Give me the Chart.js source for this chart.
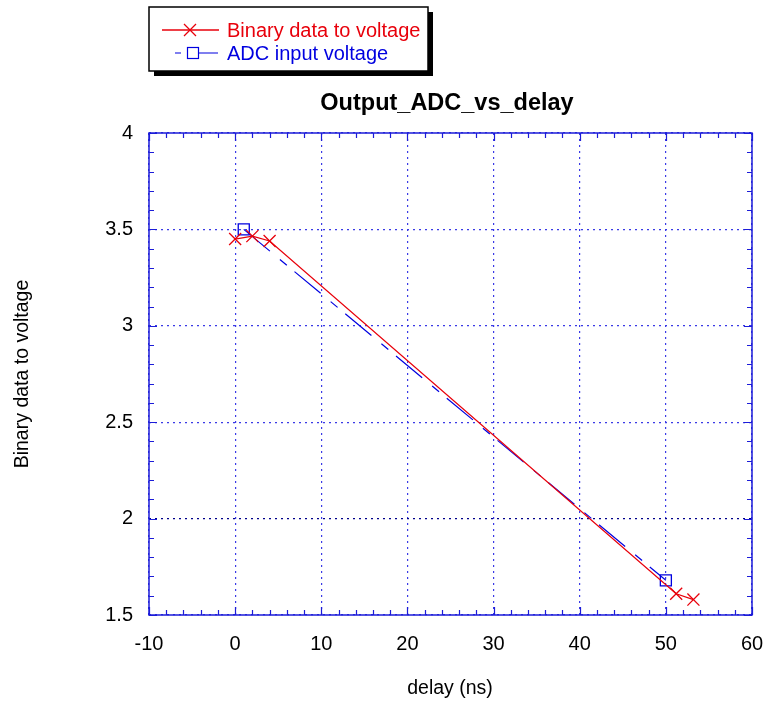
<!DOCTYPE html>
<html>
<head>
<meta charset="utf-8">
<script src="https://cdn.jsdelivr.net/npm/chart.js@4/dist/chart.umd.min.js"></script>
<style>
  html, body { margin: 0; padding: 0; background: #fff; }
  canvas { display: block; }
</style>
</head>
<body>
<canvas id="chart" width="766" height="702"></canvas>
<script>
// delay (ns) vs voltage, two series
const binaryDelay = [0, 2, 4, 51.2, 53.2];
const binaryVolt = [3.45, 3.465, 3.44, 1.61, 1.58];
const adcDelay = [1, 50];
const adcVolt = [3.5, 1.68];

const xTicks = [-10, 0, 10, 20, 30, 40, 50, 60];
const yTicks = [1.5, 2, 2.5, 3, 3.5, 4];

const chartTitle = 'Output_ADC_vs_delay';
const xTitle = 'delay (ns)';
const yTitle = 'Binary data to voltage';

const FONT = '"Liberation Sans", Arial, sans-serif';
const FRAME = '#1c1cd8';
const GRID = '#3a3ae6';

const toPoints = (xs, ys) => xs.map((x, i) => ({ x: x, y: ys[i] }));

// frame, inward ticks, titles and the boxed legend
const decorations = {
    id: 'decorations',
    afterDatasetsDraw(chart) {
        const ctx = chart.ctx;
        const area = chart.chartArea;
        const xs = chart.scales.x;
        const ys = chart.scales.y;

        ctx.save();
        ctx.strokeStyle = FRAME;
        ctx.lineWidth = 1.5;
        ctx.setLineDash([]);
        ctx.strokeRect(area.left, area.top, area.right - area.left, area.bottom - area.top);

        ctx.lineWidth = 1.2;
        ctx.beginPath();
        for (let v = -10; v <= 60; v += 2) {
            const px = Math.round(xs.getPixelForValue(v)) + 0.5;
            const len = v % 10 === 0 ? 8 : 5;
            ctx.moveTo(px, area.bottom); ctx.lineTo(px, area.bottom - len);
            ctx.moveTo(px, area.top); ctx.lineTo(px, area.top + len);
        }
        for (let i = 0; i <= 25; i++) {
            const v = 1.5 + i * 0.1;
            const py = Math.round(ys.getPixelForValue(v)) + 0.5;
            const len = i % 5 === 0 ? 8 : 5;
            ctx.moveTo(area.left, py); ctx.lineTo(area.left + len, py);
            ctx.moveTo(area.right, py); ctx.lineTo(area.right - len, py);
        }
        ctx.stroke();

        // titles
        ctx.fillStyle = '#000';
        ctx.textAlign = 'center';
        ctx.textBaseline = 'middle';
        ctx.font = 'bold 23.5px ' + FONT;
        ctx.fillText(chartTitle, 447, 104);
        ctx.font = '19.5px ' + FONT;
        ctx.fillText(xTitle, 450, 689);
        ctx.save();
        ctx.translate(23, (area.top + area.bottom) / 2);
        ctx.rotate(-Math.PI / 2);
        ctx.fillText(yTitle, 0, 0);
        ctx.restore();

        // legend box with drop shadow
        const bx = 149, by = 7, bw = 279, bh = 64;
        ctx.fillStyle = '#000';
        ctx.fillRect(bx + 5, by + 5, bw, bh);
        ctx.fillStyle = '#fff';
        ctx.fillRect(bx, by, bw, bh);
        ctx.strokeStyle = '#000';
        ctx.lineWidth = 1.5;
        ctx.strokeRect(bx, by, bw, bh);

        const rows = [30, 53];
        chart.data.datasets.forEach((ds, i) => {
            const y = rows[i];
            ctx.strokeStyle = ds.borderColor;
            ctx.lineWidth = ds.borderWidth;
            ctx.setLineDash([]);
            ctx.beginPath();
            if (i === 1) {
                ctx.moveTo(175, y); ctx.lineTo(181, y);
                ctx.moveTo(199, y); ctx.lineTo(218, y);
            } else {
                ctx.moveTo(162, y); ctx.lineTo(219, y);
            }
            ctx.stroke();
            if (i === 1) {
                const cx = 193;
                ctx.strokeRect(cx - 5.5, y - 5.5, 11, 11);
            } else {
                const cx = 190;
                ctx.beginPath();
                ctx.moveTo(cx - 6, y - 6); ctx.lineTo(cx + 6, y + 6);
                ctx.moveTo(cx - 6, y + 6); ctx.lineTo(cx + 6, y - 6);
                ctx.stroke();
            }
            ctx.fillStyle = ds.borderColor;
            ctx.textAlign = 'left';
            ctx.font = '20px ' + FONT;
            ctx.fillText(ds.label, 227, y + 1);
        });
        ctx.restore();
    }
};

new Chart(document.getElementById('chart'), {
    type: 'scatter',
    data: {
        datasets: [
            {
                label: 'Binary data to voltage',
                data: toPoints(binaryDelay, binaryVolt),
                showLine: true,
                borderColor: '#e8000b',
                backgroundColor: '#e8000b',
                borderWidth: 1.3,
                pointStyle: 'crossRot',
                pointRadius: 8.5,
                pointBorderWidth: 1.3,
                tension: 0
            },
            {
                label: 'ADC input voltage',
                data: toPoints(adcDelay, adcVolt),
                showLine: true,
                borderColor: '#0000e0',
                backgroundColor: 'rgba(0,0,0,0)',
                borderWidth: 1.2,
                borderDash: [34, 13, 9, 10],
                pointStyle: 'rect',
                pointRadius: 7.8,
                pointBorderWidth: 1.3,
                tension: 0
            }
        ]
    },
    options: {
        responsive: false,
        devicePixelRatio: 1,
        animation: false,
        layout: { padding: { top: 133, right: 14, left: 0, bottom: 0 } },
        plugins: {
            legend: { display: false },
            title: { display: false },
            tooltip: { enabled: false }
        },
        scales: {
            x: {
                type: 'linear',
                min: xTicks[0],
                max: xTicks[xTicks.length - 1],
                afterBuildTicks: s => { s.ticks = xTicks.map(v => ({ value: v })); },
                afterFit: s => { s.height = 87; s.paddingLeft = 0; s.paddingRight = 0; },
                ticks: {
                    color: '#000', font: { family: FONT, size: 20 }, padding: 17, maxRotation: 0,
                    callback: v => String(v)
                },
                grid: { color: GRID, lineWidth: 1.2, drawTicks: false },
                border: { display: false, dash: [2, 4] }
            },
            y: {
                type: 'linear',
                min: yTicks[0],
                max: yTicks[yTicks.length - 1],
                afterBuildTicks: s => { s.ticks = yTicks.map(v => ({ value: v })); },
                afterFit: s => { s.width = 149; s.paddingTop = 0; s.paddingBottom = 0; },
                ticks: {
                    color: '#000', font: { family: FONT, size: 20 }, padding: 16,
                    callback: v => String(v)
                },
                grid: {
                    color: ctx => (ctx.tick && ctx.tick.value === 2 ? '#00008a' : GRID),
                    lineWidth: 1.2,
                    drawTicks: false
                },
                border: { display: false, dash: [2, 4] }
            }
        }
    },
    plugins: [decorations]
});
</script>
</body>
</html>
